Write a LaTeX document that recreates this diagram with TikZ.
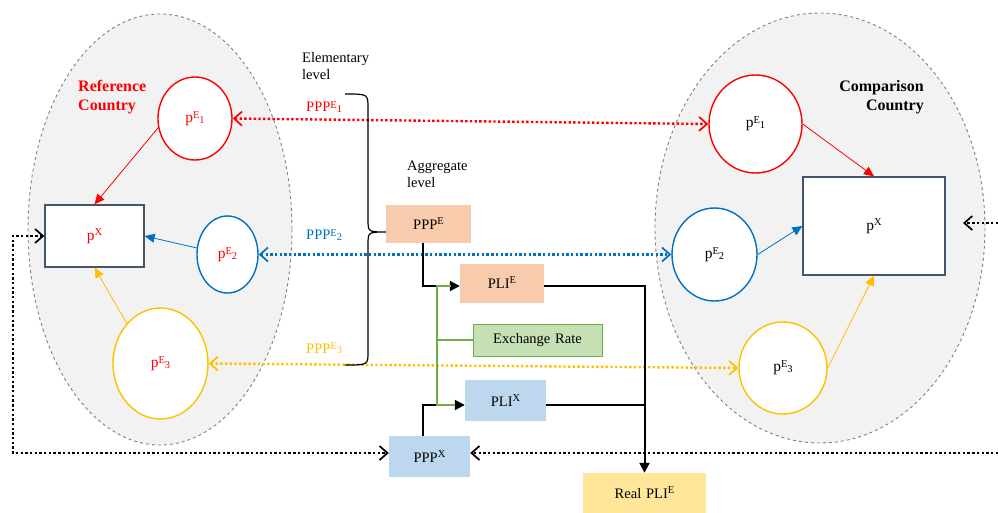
\documentclass[tikz,border=0pt]{standalone}
\usepackage{fontspec}
\setmainfont{Liberation Serif}
\usetikzlibrary{shapes.geometric,arrows.meta,calc}
\definecolor{cred}{HTML}{FF0000}
\definecolor{cblue}{HTML}{0070C0}
\definecolor{cyel}{HTML}{FFC000}
\definecolor{cgreen}{HTML}{70AD47}
\definecolor{cslate}{HTML}{44546A}
\definecolor{cpeach}{HTML}{F8CBAD}
\definecolor{clblue}{HTML}{BDD7EE}
\definecolor{clgreen}{HTML}{C5E0B4}
\definecolor{clyel}{HTML}{FFE699}
\definecolor{cgrayfill}{HTML}{F2F2F2}
\definecolor{cgrayline}{HTML}{808080}
\newcommand{\myES}[1]{\raisebox{0.6ex}{\fontsize{10.5}{10}\selectfont E}\raisebox{-0.1ex}{\fontsize{10.5}{10}\selectfont #1}}
\newcommand{\mySup}[1]{\raisebox{0.75ex}{\fontsize{10.5}{10}\selectfont #1}}
\begin{document}
\begin{tikzpicture}[x=1pt,y=-1pt,
  font=\fontsize{14.5}{17}\selectfont,
  region/.style={draw=cgrayline, fill=cgrayfill, dashed, line width=0.9pt},
  ell/.style={ellipse, draw, line width=1.4pt, fill=white, inner sep=0pt},
  pbox/.style={rectangle, draw=cslate, line width=1.3pt, fill=white, inner sep=0pt},
  fbox/.style={rectangle, inner sep=0pt},
  thinarr/.style={line width=0.8pt, -{Triangle[length=10pt,width=9pt]}},
  blkarr/.style={line width=2pt, -{Triangle[length=10pt,width=10pt]}},
  blkline/.style={line width=2pt},
  grnline/.style={line width=2pt, draw=cgreen},
  dotarr/.style={line width=2.4pt, dash pattern=on 2.4pt off 2.3pt,
     {Straight Barb[length=8pt,width=14pt,line width=1.7pt]}-{Straight Barb[length=8pt,width=14pt,line width=1.7pt]}},
  dotone/.style={line width=2.4pt, dash pattern=on 2.4pt off 2.3pt,
     -{Straight Barb[length=8pt,width=14pt,line width=1.7pt]}},
  lbl/.style={anchor=base west, inner sep=0pt}
]
\useasboundingbox (0,0) rectangle (998,513);

% regions
\draw[region] (160,229.5) ellipse [x radius=132, y radius=215.5];
\draw[region] (820,228) ellipse [x radius=165, y radius=215];

% reference country
\node[anchor=west, align=left, inner sep=0pt, text=cred,
      font=\fontsize{16}{19.5}\selectfont\bfseries] (refname) at (78,97) {Reference\\Country};
\node[ell, draw=cred, minimum width=74, minimum height=83, text=cred, font=\fontsize{15.5}{17}\selectfont] (refE1) at (195,118.5) {p\myES{1}};
\node[pbox, minimum width=99, minimum height=62, text=cred, font=\fontsize{15.5}{17}\selectfont] (refX) at (94.5,236) {p\mySup{X}};
\node[ell, draw=cblue, minimum width=61, minimum height=77, text=cred, font=\fontsize{15.5}{17}\selectfont] (refE2) at (227.5,254.5) {p\myES{2}};
\node[ell, draw=cyel, minimum width=95, minimum height=111, text=cred, font=\fontsize{15.5}{17}\selectfont] (refE3) at (160.5,363.5) {p\myES{3}};

% comparison country
\node[anchor=east, align=right, inner sep=0pt,
      font=\fontsize{16}{19.5}\selectfont\bfseries] (cmpname) at (924,97) {Comparison\\Country};
\node[ell, draw=cred, minimum width=93, minimum height=98, font=\fontsize{15.5}{17}\selectfont] (cmpE1) at (755.5,124) {p\myES{1}};
\node[pbox, minimum width=142, minimum height=98, font=\fontsize{15.5}{17}\selectfont] (cmpX) at (874,226) {p\mySup{X}};
\node[ell, draw=cblue, minimum width=85, minimum height=93, font=\fontsize{15.5}{17}\selectfont] (cmpE2) at (714.5,254.5) {p\myES{2}};
\node[ell, draw=cyel, minimum width=88, minimum height=92, font=\fontsize{15.5}{17}\selectfont] (cmpE3) at (783,368) {p\myES{3}};

% arrows inside countries
\draw[thinarr, cred] (refE1.194) -- (refX.north);
\draw[thinarr, cblue] (refE2.168) -- (refX.east);
\draw[thinarr, cyel] (refE3.130) -- (refX.south);
\draw[thinarr, cred] (cmpE1.east) -- (cmpX.north);
\draw[thinarr, cblue] (cmpE2.east) -- (cmpX.west);
\draw[thinarr, cyel] (cmpE3.east) -- (cmpX.south);

% elementary level
\node[anchor=west, align=left, inner sep=0pt] (elem) at (302,66) {Elementary\\level};
\node[lbl, text=cred] (lab1) at (306,112) {PPP\myES{1}};
\node[lbl, text=cblue] (lab2) at (306,240) {PPP\myES{2}};
\node[lbl, text=cyel] (lab3) at (306,353) {PPP\myES{3}};

% dotted links
\draw[dotarr, cred] (refE1.east) -- (cmpE1.west);
\draw[dotarr, cblue] (refE2.east) -- (cmpE2.west);
\draw[dotarr, cyel] (refE3.east) -- (cmpE3.west);

% aggregate level
\node[anchor=west, align=left, inner sep=0pt] (aggr) at (407,174) {Aggregate\\level};
\node[fbox, fill=cpeach, minimum width=85, minimum height=38] (PPPE) at (428.5,224) {PPP\mySup{E}};
\node[fbox, fill=cpeach, minimum width=84, minimum height=39] (PLIE) at (502,283) {PLI\mySup{E}};
\node[fbox, fill=clgreen, draw=cgreen, line width=1pt, minimum width=129, minimum height=32] (ER) at (537.5,340) {Exchange\,\,Rate};
\node[fbox, fill=clblue, minimum width=81, minimum height=41] (PLIX) at (505.5,400.5) {PLI\mySup{X}};
\node[fbox, fill=clblue, minimum width=81, minimum height=41] (PPPX) at (429.5,456.5) {PPP\mySup{X}};
\node[fbox, fill=clyel, minimum width=123, minimum height=40] (RPLI) at (644.5,493) {Real\,\,PLI\mySup{E}};

% brace
\draw[line width=1.2pt] (345,94) .. controls (368,94) .. (368,108) -- (368,219)
   .. controls (368,232) .. (386,232) .. controls (368,232) .. (368,245)
   -- (368,352) .. controls (368,365) .. (345,365);

% black connectors
\coordinate (gx) at (437,0);
\draw[blkarr] ([xshift=-5.5pt]PPPE.south) |- ([yshift=-3pt]PLIE.west);
\draw[blkarr] ([xshift=-6.5pt]PPPX.north) |- ([yshift=-4.5pt]PLIX.west);
\draw[blkarr] ([yshift=-3pt]PLIE.east) -| (RPLI.north);
\draw[blkline] ([yshift=-4.5pt]PLIX.east) -- ([yshift=-4.5pt]PLIX.east -| RPLI.north);
% green connectors
\draw[grnline] ([xshift=-9pt,yshift=-3pt]PLIE.west) -- ([yshift=-3pt]PLIE.west -| gx)
   -- ([yshift=-4.5pt]PLIX.west -| gx) -- ([xshift=-10pt,yshift=-4.5pt]PLIX.west);
\draw[grnline] (ER.west) -- (ER.west -| gx);

% black dotted loops
\coordinate (lc1) at (13,453);
\coordinate (lc2) at (13,236);
\coordinate (rc1) at (998,453);
\coordinate (rc2) at (998,223);
\coordinate (rc3) at (963,223);
\draw[dotarr, black] (refX.west) -- (lc2) -- (lc1) -- (PPPX.west |- lc1);
\draw[dotone, black] (rc1) -- (PPPX.east |- rc1);
\draw[dotone, black] (rc2) -- (rc3);
\end{tikzpicture}
\end{document}
